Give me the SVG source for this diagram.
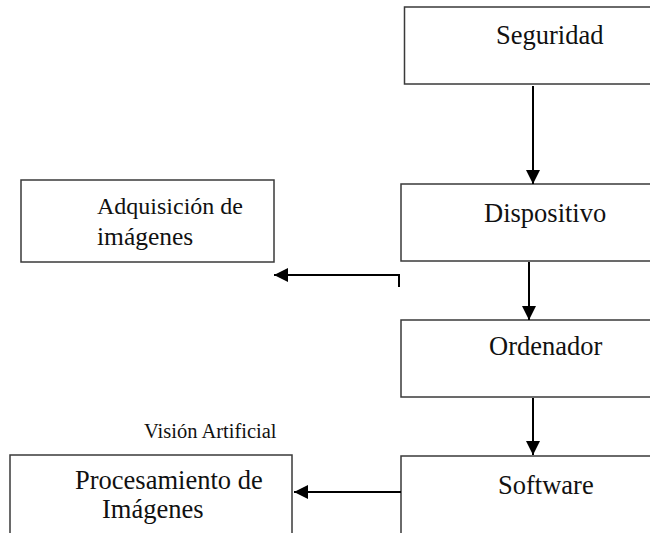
<svg xmlns="http://www.w3.org/2000/svg" width="650" height="533" viewBox="0 0 650 533">
<style>
.box{fill:#fff;stroke:#3a3a3a;stroke-width:1.5}
.c{fill:none;stroke:#000;stroke-width:2}
</style>
<defs>
<marker id="ah" markerWidth="14" markerHeight="14" viewBox="0 0 14 14" refX="14" refY="7" orient="auto" markerUnits="userSpaceOnUse">
<path d="M0,0 L14,7 L0,14 Z" fill="#000"/>
</marker>
</defs>
<rect width="650" height="533" fill="#fff"/>
<g font-family="Liberation Serif, Times New Roman, serif" font-size="26.5" fill="#111">
<g id="seguridad"><rect class="box" x="404.5" y="7" width="260" height="77"/><text x="496" y="44">Seguridad</text></g>
<g id="dispositivo"><rect class="box" x="401" y="184" width="260" height="77"/><text x="484" y="222">Dispositivo</text></g>
<g id="ordenador"><rect class="box" x="401" y="320" width="260" height="77"/><text x="489" y="355">Ordenador</text></g>
<g id="software"><rect class="box" x="401" y="456" width="260" height="100"/><text x="498" y="494">Software</text></g>
<g id="adquisicion"><rect class="box" x="21" y="180" width="253" height="82"/><text x="97" y="214" font-size="24">Adquisición de</text><text x="97" y="245" font-size="25.5">imágenes</text></g>
<g id="procesamiento"><rect class="box" x="10" y="455" width="282" height="100"/><text x="75" y="489">Procesamiento de</text><text x="102" y="518">Imágenes</text></g>
<text id="vision" x="144" y="438" font-size="20.5">Visión Artificial</text>
</g>
<g id="connectors">
<line class="c" x1="533" y1="86" x2="533" y2="184" marker-end="url(#ah)"/>
<line class="c" x1="529" y1="262" x2="529" y2="320" marker-end="url(#ah)"/>
<line class="c" x1="533" y1="398" x2="533" y2="455" marker-end="url(#ah)"/>
<line class="c" x1="401" y1="492" x2="294" y2="492" marker-end="url(#ah)"/>
<polyline class="c" points="399,287 399,275 274,275" marker-end="url(#ah)"/>
</g>
</svg>
